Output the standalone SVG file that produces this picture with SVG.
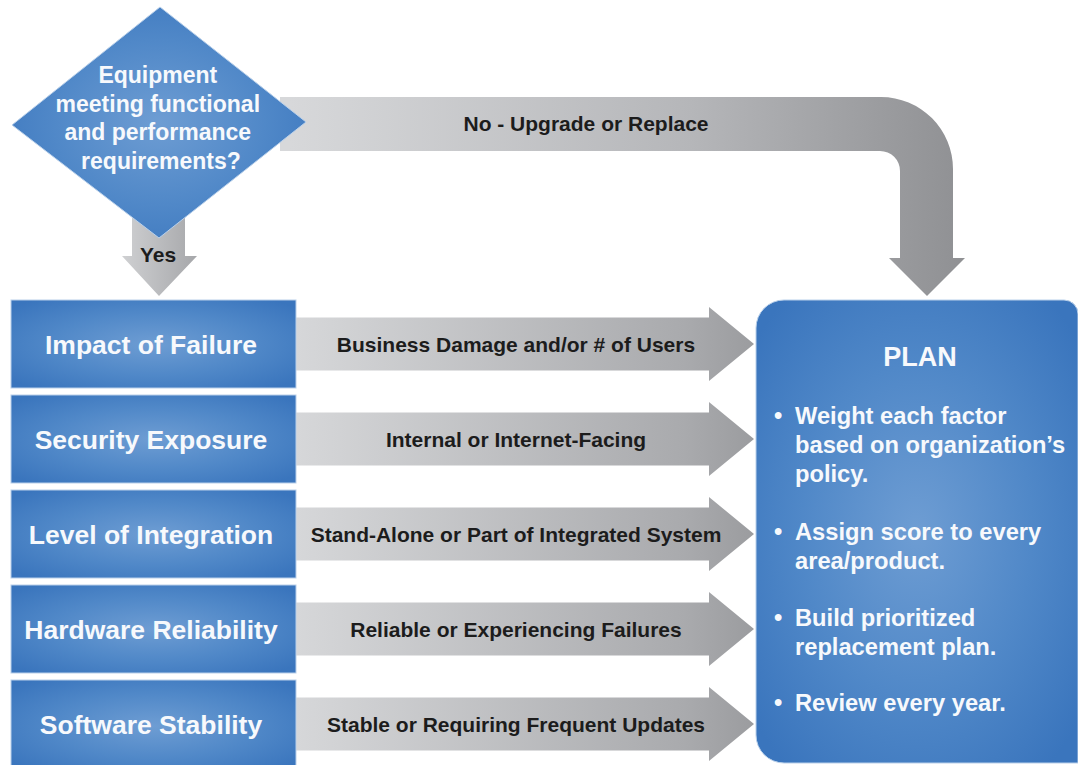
<svg xmlns="http://www.w3.org/2000/svg" width="1078" height="765" viewBox="0 0 1078 765">
  <defs>
    <style>
      .t { font-family: "Liberation Sans", Arial, Helvetica, sans-serif; font-weight: bold; }
      .wt { fill: #f7f9fc; }
      .dk { fill: #1c1c1c; }
      .box { fill: url(#blueGlow); stroke: #b9d0ea; stroke-width: 1; }
      .row-arrow { fill: url(#grayRow); }
    </style>
    <radialGradient id="blueGlow" cx="0.5" cy="0.5" r="0.65">
      <stop offset="0" stop-color="#6e9dd3"/>
      <stop offset="0.55" stop-color="#5088c8"/>
      <stop offset="1" stop-color="#3a75bd"/>
    </radialGradient>
    <linearGradient id="grayRow" x1="0" y1="0" x2="1" y2="0">
      <stop offset="0" stop-color="#d6d7d9"/>
      <stop offset="0.85" stop-color="#a9aaad"/>
      <stop offset="1" stop-color="#9b9c9f"/>
    </linearGradient>
    <linearGradient id="grayTop" gradientUnits="userSpaceOnUse" x1="290" y1="0" x2="960" y2="0">
      <stop offset="0" stop-color="#d7d8da"/>
      <stop offset="0.6" stop-color="#b5b6b9"/>
      <stop offset="1" stop-color="#909194"/>
    </linearGradient>
    <linearGradient id="grayYes" x1="0" y1="0" x2="1" y2="0">
      <stop offset="0" stop-color="#cfd0d2"/>
      <stop offset="1" stop-color="#a6a7aa"/>
    </linearGradient>
  </defs>

  <rect width="1078" height="765" fill="#ffffff"/>

  <!-- connectors: the decision branches and the factor arrows into the plan -->
  <g id="connectors">
    <path id="edge-no" fill="url(#grayTop)"
          d="M280,97 L881,97 A72,72 0 0 1 953,169 L953,258 L965,258 L927,296 L889,258 L900,258 L900,171 A20,20 0 0 0 880,151 L280,151 Z"/>
    <text class="t dk" x="586" y="131" font-size="21" text-anchor="middle">No - Upgrade or Replace</text>

    <path id="edge-yes" fill="url(#grayYes)"
          d="M132,200 L185,200 L185,256 L197,256 L159,296 L122,256 L132,256 Z"/>
    <text class="t dk" x="158" y="262" font-size="21" text-anchor="middle">Yes</text>

    <g id="edge-impact">
      <path class="row-arrow" d="M296,317.5 L709,317.5 L709,307 L754,344 L709,381 L709,370.5 L296,370.5 Z"/>
      <text class="t dk" x="516" y="351.5" font-size="21" text-anchor="middle">Business Damage and/or # of Users</text>
    </g>
    <g id="edge-security">
      <path class="row-arrow" d="M296,412.5 L709,412.5 L709,402 L754,439 L709,476 L709,465.5 L296,465.5 Z"/>
      <text class="t dk" x="516" y="446.5" font-size="21" text-anchor="middle">Internal or Internet-Facing</text>
    </g>
    <g id="edge-integration">
      <path class="row-arrow" d="M296,507.5 L709,507.5 L709,497 L754,534 L709,571 L709,560.5 L296,560.5 Z"/>
      <text class="t dk" x="516" y="541.5" font-size="21" text-anchor="middle">Stand-Alone or Part of Integrated System</text>
    </g>
    <g id="edge-hardware">
      <path class="row-arrow" d="M296,602.5 L709,602.5 L709,592 L754,629 L709,666 L709,655.5 L296,655.5 Z"/>
      <text class="t dk" x="516" y="636.5" font-size="21" text-anchor="middle">Reliable or Experiencing Failures</text>
    </g>
    <g id="edge-software">
      <path class="row-arrow" d="M296,697.5 L709,697.5 L709,687 L754,724 L709,761 L709,750.5 L296,750.5 Z"/>
      <text class="t dk" x="516" y="731.5" font-size="21" text-anchor="middle">Stable or Requiring Frequent Updates</text>
    </g>
  </g>

  <!-- decision -->
  <g id="decision">
    <polygon class="box" points="160,7 306,122 159,238 12,125" stroke="none"/>
    <text class="t wt" font-size="23" text-anchor="middle">
      <tspan x="161" y="83">Equipment</tspan>
      <tspan x="161" y="111.5">meeting functional</tspan>
      <tspan x="161" y="140">and performance</tspan>
      <tspan x="161" y="168.5">requirements?</tspan>
    </text>
  </g>

  <!-- factor boxes -->
  <g id="factor-impact">
    <rect class="box" x="11" y="300" width="285" height="88"/>
    <text class="t wt" x="151" y="353.5" font-size="26.5" text-anchor="middle">Impact of Failure</text>
  </g>
  <g id="factor-security">
    <rect class="box" x="11" y="395" width="285" height="88"/>
    <text class="t wt" x="151" y="448.5" font-size="26.5" text-anchor="middle">Security Exposure</text>
  </g>
  <g id="factor-integration">
    <rect class="box" x="11" y="490" width="285" height="88"/>
    <text class="t wt" x="151" y="543.5" font-size="26.5" text-anchor="middle">Level of Integration</text>
  </g>
  <g id="factor-hardware">
    <rect class="box" x="11" y="585" width="285" height="88"/>
    <text class="t wt" x="151" y="638.5" font-size="26.5" text-anchor="middle">Hardware Reliability</text>
  </g>
  <g id="factor-software">
    <rect class="box" x="11" y="680" width="285" height="92"/>
    <text class="t wt" x="151" y="733.5" font-size="26.5" text-anchor="middle">Software Stability</text>
  </g>

  <!-- plan panel -->
  <g id="plan">
    <path class="box" stroke="none"
          d="M784,300 L1064,300 A14,14 0 0 1 1078,314 L1078,763 L784,763 A28,28 0 0 1 756,735 L756,328 A28,28 0 0 1 784,300 Z"/>
    <text class="t wt" x="920" y="366" font-size="27" text-anchor="middle">PLAN</text>
    <g class="t wt" font-size="23.7">
      <text x="774" y="424">•</text>
      <text x="795" y="424">Weight each factor</text>
      <text x="795" y="453">based on organization’s</text>
      <text x="795" y="482">policy.</text>
      <text x="774" y="540">•</text>
      <text x="795" y="540">Assign score to every</text>
      <text x="795" y="569">area/product.</text>
      <text x="774" y="626">•</text>
      <text x="795" y="626">Build prioritized</text>
      <text x="795" y="655">replacement plan.</text>
      <text x="774" y="711">•</text>
      <text x="795" y="711">Review every year.</text>
    </g>
  </g>
</svg>
